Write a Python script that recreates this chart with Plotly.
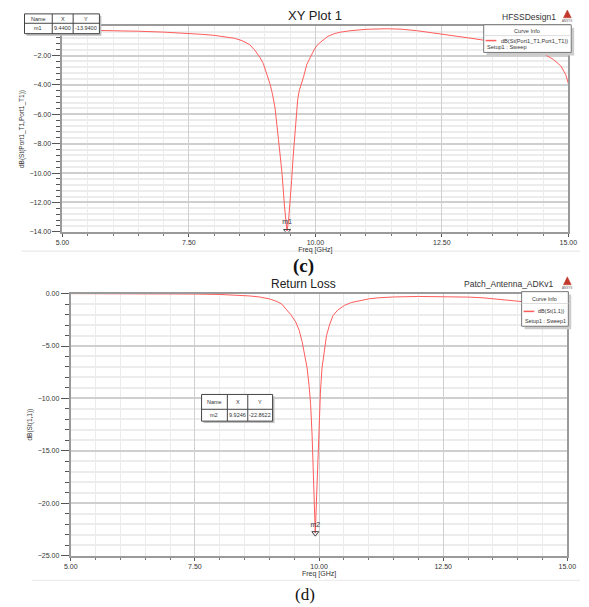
import plotly.graph_objects as go

# ---------------- data ----------------
freq_c = [5.0, 5.5, 6.0, 6.5, 7.0, 7.5, 7.75, 8.0, 8.2, 8.4, 8.55, 8.7, 8.8, 8.9, 8.97,
          9.05, 9.1, 9.15, 9.2, 9.27, 9.34, 9.39, 9.42, 9.44, 9.47, 9.50, 9.53, 9.56,
          9.59, 9.62, 9.65, 9.68, 9.72, 9.77, 9.83, 9.9, 9.99, 10.06, 10.15, 10.25,
          10.38, 10.5, 10.7, 11.0, 11.4, 11.7, 12.0, 12.35, 12.7, 13.0, 13.35, 13.7,
          14.0, 14.3, 14.5, 14.7, 14.85, 14.95, 15.0]
s11_c = [-0.24, -0.26, -0.30, -0.34, -0.40, -0.48, -0.55, -0.62, -0.70, -0.82, -0.98,
         -1.25, -1.62, -2.10, -2.54, -3.30, -3.90, -4.60, -5.50, -7.70, -10.0, -12.3,
         -13.3, -13.94, -13.2, -12.0, -10.5, -8.9, -7.4, -6.1, -5.0, -4.4, -4.0, -3.4,
         -2.6, -2.1, -1.5, -1.2, -0.95, -0.68, -0.50, -0.40, -0.30, -0.21, -0.17,
         -0.20, -0.30, -0.45, -0.62, -0.78, -0.96, -1.20, -1.40, -1.68, -1.86, -2.25,
         -2.70, -3.30, -3.90]

freq_d = [5.0, 5.5, 6.0, 6.5, 7.0, 7.5, 8.0, 8.3, 8.6, 8.8, 9.0, 9.15, 9.25, 9.33,
          9.43, 9.53, 9.6, 9.66, 9.71, 9.76, 9.8, 9.83, 9.86, 9.88, 9.9, 9.915, 9.9246,
          9.935, 9.95, 9.97, 10.0, 10.03, 10.06, 10.1, 10.15, 10.21, 10.28, 10.38,
          10.51, 10.65, 10.83, 11.0, 11.2, 11.5, 12.0, 12.5, 13.0, 13.3, 13.7, 14.0,
          14.5, 15.0]
s11_d = [0.0, 0.0, 0.0, -0.01, -0.02, -0.04, -0.08, -0.13, -0.22, -0.32, -0.50, -0.75,
         -1.0, -1.45, -2.0, -2.7, -3.5, -4.6, -5.7, -7.1, -8.8, -10.5, -13.5, -16.5,
         -19.7, -22.0, -22.8622, -21.5, -19.5, -16.5, -12.0, -9.2, -7.1, -5.5, -4.0,
         -3.0, -2.1, -1.55, -1.13, -0.85, -0.66, -0.50, -0.40, -0.32, -0.27, -0.28,
         -0.33, -0.40, -0.55, -0.72, -1.0, -1.3]

m1_x, m1_y = 9.44, -13.94
m2_x, m2_y = 9.9246, -22.8622

x_range = [5, 15]
y_range_c = [-14, 0]
y_range_d = [-25, 0]
y_ticks_c = [-14, -12, -10, -8, -6, -4, -2]   # 0.00 is hidden under the marker table
y_ticks_d = [-25, -20, -15, -10, -5, 0]

W, H = 589, 607
FONT = "Liberation Sans"
RED = "#ff5c5c"


def px(x):
    return x / W


def py(y):
    return 1 - y / H


fig = go.Figure()

fig.add_trace(go.Scatter(x=freq_c, y=s11_c, mode="lines", xaxis="x", yaxis="y",
                         line=dict(color=RED, width=1), showlegend=False,
                         name="dB(St(Port1_T1,Port1_T1))"))
fig.add_trace(go.Scatter(x=[m1_x], y=[m1_y], mode="markers+text", xaxis="x", yaxis="y",
                         marker=dict(symbol="triangle-down-open", size=6, color="#444",
                                     line=dict(width=1, color="#444")),
                         text=["m1"], textposition="top center",
                         textfont=dict(size=7, color="#333", family=FONT),
                         showlegend=False))

fig.add_trace(go.Scatter(x=freq_d, y=s11_d, mode="lines", xaxis="x2", yaxis="y2",
                         line=dict(color=RED, width=1), showlegend=False,
                         name="dB(St(1,1))"))
fig.add_trace(go.Scatter(x=[m2_x], y=[m2_y], mode="markers+text", xaxis="x2", yaxis="y2",
                         marker=dict(symbol="triangle-down-open", size=6, color="#444",
                                     line=dict(width=1, color="#444")),
                         text=["m2"], textposition="top center",
                         textfont=dict(size=7, color="#333", family=FONT),
                         showlegend=False))


def xax(domain, anchor):
    return dict(domain=domain, anchor=anchor, range=x_range, tick0=5, dtick=2.5,
                tickformat=".2f", ticks="outside", ticklen=3, tickcolor="#555",
                showgrid=True, gridcolor="#d0d0d0", gridwidth=1,
                minor=dict(dtick=0.5, ticks="outside", ticklen=2, tickcolor="#777",
                           showgrid=True, gridcolor="#ececec"),
                showline=True, mirror=True, linecolor="#9a9a9a", linewidth=2,
                zeroline=False,
                tickfont=dict(size=7, color="#333", family=FONT),
                title=dict(text="Freq [GHz]", font=dict(size=7, color="#333", family=FONT),
                           standoff=1))


def yax(domain, anchor, rng, tickvals, mdtick, title):
    return dict(domain=domain, anchor=anchor, range=rng, tickmode="array",
                tickvals=tickvals,
                tickformat=".2f", ticks="outside", ticklen=8, tickcolor="#555",
                showgrid=True, gridcolor="#cfcfcf", gridwidth=1.5,
                minor=dict(tickmode="linear", tick0=0, dtick=mdtick, ticks="outside",
                           ticklen=4, tickcolor="#555",
                           showgrid=True, gridcolor="#ececec"),
                showline=True, mirror=True, linecolor="#9a9a9a", linewidth=2,
                zeroline=False,
                tickfont=dict(size=7, color="#333", family=FONT),
                title=dict(text=title, font=dict(size=6.5, color="#333", family=FONT),
                           standoff=4))


fig.update_layout(
    width=W, height=H, margin=dict(l=0, r=0, t=0, b=0),
    paper_bgcolor="white", plot_bgcolor="white", showlegend=False,
    font=dict(family=FONT),
    xaxis=xax([px(57), px(577)], "y"),
    yaxis=yax([py(230.5), py(22.5)], "x", y_range_c, y_ticks_c, 0.4, "dB(St(Port1_T1,Port1_T1))"),
    xaxis2=xax([px(65.5), px(576)], "y2"),
    yaxis2=yax([py(558), py(293)], "x2", y_range_d, y_ticks_d, 1, "dB(St(1,1))"),
)

shapes = []
annots = []


def text(x, y, s, size=7, xanchor="center", family=FONT, color="#333", bold=False):
    if bold:
        s = "<b>" + s + "</b>"
    annots.append(dict(x=px(x), y=py(y), xref="paper", yref="paper", text=s,
                       showarrow=False, xanchor=xanchor, yanchor="middle",
                       font=dict(size=size, family=family, color=color)))


def rect(x0, y0, x1, y1, fill="white", line="#555", lw=1):
    shapes.append(dict(type="rect", xref="paper", yref="paper",
                       x0=px(x0), x1=px(x1), y0=py(y1), y1=py(y0),
                       fillcolor=fill, line=dict(color=line, width=lw), layer="above"))


def hline(x0, x1, y, color="#555", lw=1):
    shapes.append(dict(type="line", xref="paper", yref="paper",
                       x0=px(x0), x1=px(x1), y0=py(y), y1=py(y),
                       line=dict(color=color, width=lw), layer="above"))


def vline(x, y0, y1, color="#555", lw=1):
    shapes.append(dict(type="line", xref="paper", yref="paper",
                       x0=px(x), x1=px(x), y0=py(y0), y1=py(y1),
                       line=dict(color=color, width=lw), layer="above"))


def logo(x, y):
    shapes.append(dict(type="path", xref="paper", yref="paper",
                       path=f"M {px(x-4)} {py(y+3)} L {px(x+4)} {py(y+3)} L {px(x)} {py(y-5)} Z",
                       fillcolor="#c0392b", line=dict(color="#c0392b", width=0.5),
                       layer="above"))
    text(x, y + 6, "ANSYS", size=3, color="#555")


def marker_table(x0, x1, c1, c2, y0, ym, y1, name, mx, my):
    rect(x0 + 2, y0 + 2, x1 + 2, y1 + 2, fill="#bdbdbd", line="#bdbdbd", lw=0)
    rect(x0, y0, x1, y1, fill="white", line="#444", lw=1)
    hline(x0, x1, ym, color="#444")
    vline(c1, y0, y1, color="#444")
    vline(c2, y0, y1, color="#444")
    r1 = (y0 + ym) / 2
    r2 = (ym + y1) / 2
    text((x0 + c1) / 2, r1, "Name", size=5.5)
    text((c1 + c2) / 2, r1, "X", size=5.5)
    text((c2 + x1) / 2, r1, "Y", size=5.5)
    text((x0 + c1) / 2, r2, name, size=5.5)
    text((c1 + c2) / 2, r2, f"{mx:.4f}", size=5.5)
    text((c2 + x1) / 2, r2, f"{my:.4f}", size=5.5)


def curve_info(x0, x1, y0, y1, yhead, ysep, yline, yset, label, setup, fs):
    rect(x0 + 3, y0 + 3, x1 + 3, y1 + 3, fill="#cccccc", line="#cccccc", lw=0)
    rect(x0, y0, x1, y1, fill="white", line="#777", lw=1)
    text((x0 + x1) / 2, yhead, "Curve Info", size=fs)
    hline(x0, x1, ysep, color="#dddddd")
    hline(x0 + 2, x0 + 13, yline, color=RED, lw=1.5)
    text(x1 - 1.5, yline, label, size=fs, xanchor="right")
    text(x0 + 1.5, yset, setup, size=fs, xanchor="left")


# ---- top chart decorations ----
text(317, 12, "XY Plot 1", size=13, color="#222")
text(566, 13, "HFSSDesign1", size=8.5, xanchor="right", color="#333")
logo(576, 11)
marker_table(18, 95, 46.5, 68, 10, 19.5, 30, "m1", m1_x, m1_y)
curve_info(490, 580, 21, 49, 27, 32, 37, 44, "dB(St(Port1_T1,Port1_T1))", "Setup1 : Sweep", 5.6)
hline(15, 589, 250, color="#e4e4e4", lw=1)
text(305, 265, "(c)", size=19, family="Liberation Serif", color="#111", bold=True)

# ---- bottom chart decorations ----
text(305, 283, "Return Loss", size=12, color="#222")
text(564, 283, "Patch_Antenna_ADKv1", size=8.5, xanchor="right", color="#333")
logo(576, 281)
marker_table(200, 273, 226.5, 247.5, 395, 410, 422, "m2", m2_x, m2_y)
curve_info(529, 577, 291, 326, 298, 303, 311, 321, "dB(St(1,1))", "Setup1 : Sweep1", 5.4)
hline(26, 589, 583, color="#e8e8e8", lw=1)
text(306, 597, "(d)", size=17, family="Liberation Serif", color="#111")

fig.update_layout(shapes=shapes, annotations=annots)
fig.write_html("out.html", config={"displayModeBar": False},
               post_script="document.body.style.margin='0';document.body.style.padding='0';")
